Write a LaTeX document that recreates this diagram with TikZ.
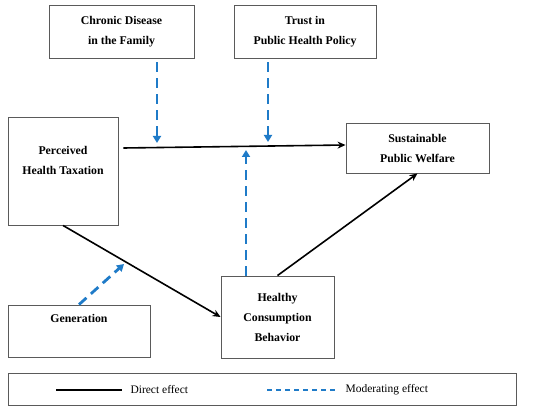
\documentclass[tikz,border=0pt]{standalone}
\usepackage{fontspec}
\setmainfont{Liberation Serif}
\usepackage{xcolor}
\usetikzlibrary{arrows.meta,positioning,calc}
\definecolor{modblue}{HTML}{1F7BC8}
\definecolor{boxgray}{HTML}{5A5A5A}
\tikzset{
  factor/.style={draw=boxgray,fill=white,line width=0.9pt,align=center,
                 inner sep=3pt,font=\fontsize{11.8}{20}\selectfont\bfseries},
  legendbox/.style={draw=boxgray,line width=0.9pt,inner sep=0pt},
  directarr/.style={-{Stealth[length=8pt,width=7pt]},line width=1.6pt,draw=black},
  modarr/.style={-{Triangle[length=7pt,width=8pt]},line width=2.8pt,draw=modblue,
                 dash pattern=on 10pt off 6pt},
  legtext/.style={font=\fontsize{11.5}{13}\selectfont,anchor=west}
}

\begin{document}
\begin{tikzpicture}[x=1pt,y=-1pt]
    \path[use as bounding box] (0,0) rectangle (550,412);
    % factors
    \node[factor,minimum width=145pt,minimum height=53pt] (chronic) at (121.5,31.5)
      {Chronic Disease\\in the Family};
    \node[factor,minimum width=142pt,minimum height=53pt] (trust) at (305,31.5)
      {Trust in\\Public Health Policy};
    \node[factor,minimum width=110pt,minimum height=108pt,text depth=22pt] (perc) at (63,171)
      {Perceived\\Health Taxation};
    \node[factor,minimum width=143pt,minimum height=50pt] (sust) at (417.5,148)
      {Sustainable\\Public Welfare};
    \node[factor,minimum width=113pt,minimum height=82pt] (hcb) at (277.5,317)
      {Healthy\\Consumption\\Behavior};
    \node[factor,minimum width=142pt,minimum height=52pt,text depth=26pt] (gen) at (79,331)
      {Generation};
    % points where the moderators meet the paths
    \coordinate (m1) at (157,143);
    \coordinate (m2) at (268,142);
    \coordinate (m3) at (246,150);
    \coordinate (m4) at (124,264);
    % direct effects
    \draw[directarr] ([xshift=5pt,yshift=23pt]perc.east) -- ([yshift=3pt]sust.west);
    \draw[directarr] (perc.south) -- (hcb.west);
    \draw[directarr] (hcb.north) -- (sust.south);
    % moderating effects
    \draw[modarr] ([xshift=35.5pt,yshift=-4pt]chronic.south) -- (m1);
    \draw[modarr] ([xshift=-37pt,yshift=-4pt]trust.south) -- (m2);
    \draw[modarr] (hcb.north -| m3) -- (m3);
    \draw[modarr] (gen.north) -- (m4);
    % legend
    \node[legendbox,minimum width=508pt,minimum height=32pt] (legend) at (262,389) {};
    \coordinate (d1) at (56,390);
    \coordinate (d2) at (122,390);
    \coordinate (e1) at (267,390);
    \coordinate (e2) at (338,390);
    \draw[line width=1.2pt] (d1) -- (d2);
    \node[legtext] (dtext) at (127,389.5) {Direct effect};
    \draw[line width=1.4pt,draw=modblue,dash pattern=on 5pt off 4pt] (e1) -- (e2);
    \node[legtext] (mtext) at (342,389.5) {Moderating effect};
\end{tikzpicture}
\end{document}
